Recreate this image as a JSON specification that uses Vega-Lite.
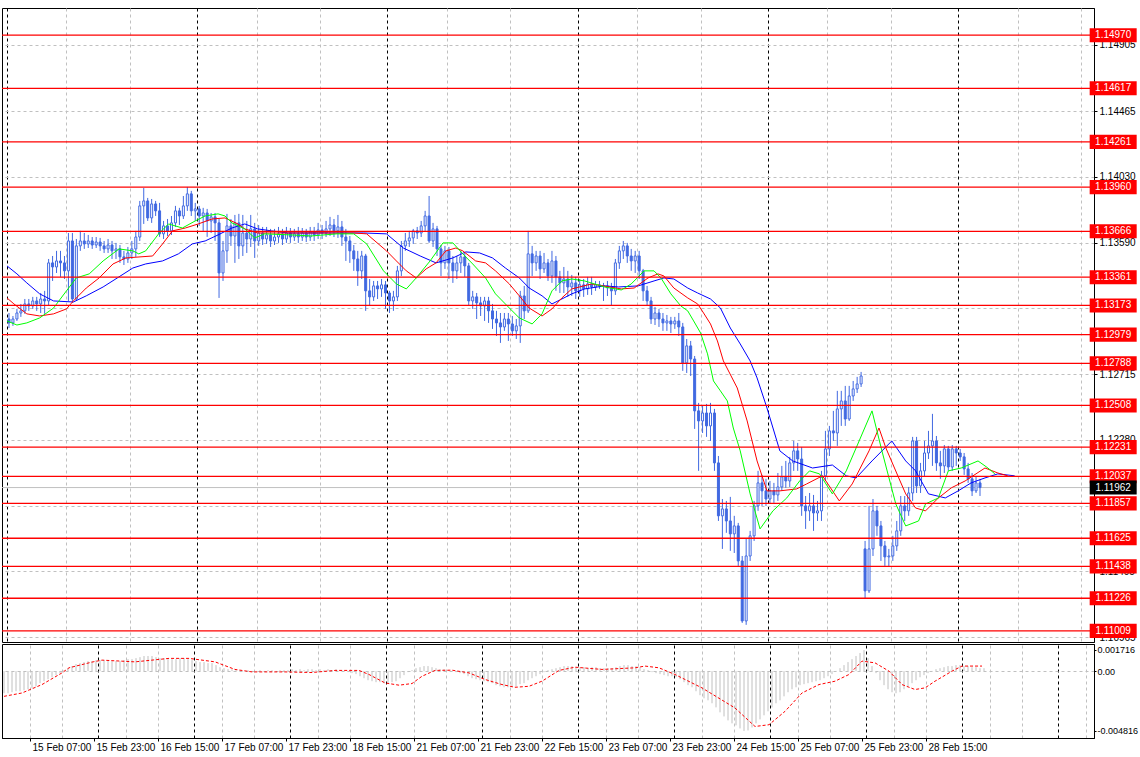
{
"$schema":"https://vega.github.io/schema/vega-lite/v6.json",
"background":"white",
"padding":{"left":0,"top":7,"right":0,"bottom":0},
"spacing":0,
"config":{"view":{"stroke":"black","strokeWidth":1},"axis":{"labelFont":"Liberation Sans","labelFontSize":10,"labelColor":"black","tickColor":"black","domainColor":"black","tickSize":3,"gridWidth":1}},
"datasets":{
"candles":[
{"t":0,"o":1.13083,"h":1.13123,"l":1.13023,"c":1.13057,"m":-0.00178},
{"t":1,"o":1.13057,"h":1.13103,"l":1.13037,"c":1.13083,"m":-0.00178},
{"t":2,"o":1.13083,"h":1.13150,"l":1.13070,"c":1.13123,"m":-0.0017},
{"t":3,"o":1.13123,"h":1.13183,"l":1.13097,"c":1.13137,"m":-0.00162},
{"t":4,"o":1.13137,"h":1.13216,"l":1.13117,"c":1.13183,"m":-0.00162},
{"t":5,"o":1.13183,"h":1.13216,"l":1.13137,"c":1.13170,"m":-0.00154},
{"t":6,"o":1.13170,"h":1.13230,"l":1.13150,"c":1.13203,"m":-0.00146},
{"t":7,"o":1.13203,"h":1.13230,"l":1.13137,"c":1.13183,"m":-0.00138},
{"t":8,"o":1.13183,"h":1.13256,"l":1.13123,"c":1.13216,"m":-0.00122},
{"t":9,"o":1.13216,"h":1.13270,"l":1.13117,"c":1.13203,"m":-0.00097},
{"t":10,"o":1.13203,"h":1.13482,"l":1.13170,"c":1.13456,"m":-0.00081},
{"t":11,"o":1.13456,"h":1.13502,"l":1.13336,"c":1.13429,"m":-0.00065},
{"t":12,"o":1.13429,"h":1.13536,"l":1.13389,"c":1.13469,"m":-0.00049},
{"t":13,"o":1.13469,"h":1.13536,"l":1.13363,"c":1.13456,"m":-0.00032},
{"t":14,"o":1.13456,"h":1.13502,"l":1.13349,"c":1.13403,"m":-0.00016},
{"t":15,"o":1.13403,"h":1.13655,"l":1.13203,"c":1.13602,"m":0.00008},
{"t":16,"o":1.13602,"h":1.13655,"l":1.13190,"c":1.13216,"m":0.00024},
{"t":17,"o":1.13216,"h":1.13615,"l":1.13203,"c":1.13569,"m":0.00041},
{"t":18,"o":1.13569,"h":1.13669,"l":1.13536,"c":1.13602,"m":0.00057},
{"t":19,"o":1.13602,"h":1.13655,"l":1.13549,"c":1.13582,"m":0.00065},
{"t":20,"o":1.13582,"h":1.13642,"l":1.13555,"c":1.13602,"m":0.00073},
{"t":21,"o":1.13602,"h":1.13628,"l":1.13549,"c":1.13575,"m":0.00081},
{"t":22,"o":1.13575,"h":1.13628,"l":1.13555,"c":1.13595,"m":0.00081},
{"t":23,"o":1.13595,"h":1.13622,"l":1.13536,"c":1.13569,"m":0.00089},
{"t":24,"o":1.13569,"h":1.13602,"l":1.13522,"c":1.13549,"m":0.00089},
{"t":25,"o":1.13549,"h":1.13615,"l":1.13522,"c":1.13575,"m":0.00089},
{"t":26,"o":1.13575,"h":1.13602,"l":1.13482,"c":1.13536,"m":0.00089},
{"t":27,"o":1.13536,"h":1.13589,"l":1.13482,"c":1.13549,"m":0.00081},
{"t":28,"o":1.13549,"h":1.13575,"l":1.13456,"c":1.13496,"m":0.00081},
{"t":29,"o":1.13496,"h":1.13536,"l":1.13442,"c":1.13482,"m":0.00081},
{"t":30,"o":1.13482,"h":1.13562,"l":1.13456,"c":1.13522,"m":0.00089},
{"t":31,"o":1.13522,"h":1.13602,"l":1.13482,"c":1.13549,"m":0.00097},
{"t":32,"o":1.13549,"h":1.13669,"l":1.13496,"c":1.13628,"m":0.00097},
{"t":33,"o":1.13628,"h":1.13868,"l":1.13602,"c":1.13835,"m":0.00105},
{"t":34,"o":1.13835,"h":1.13954,"l":1.13715,"c":1.13868,"m":0.00113},
{"t":35,"o":1.13868,"h":1.13888,"l":1.13735,"c":1.13755,"m":0.00122},
{"t":36,"o":1.13755,"h":1.13881,"l":1.13722,"c":1.13848,"m":0.00122},
{"t":37,"o":1.13848,"h":1.13868,"l":1.13768,"c":1.13802,"m":0.00122},
{"t":38,"o":1.13802,"h":1.13855,"l":1.13629,"c":1.13649,"m":0.00113},
{"t":39,"o":1.13649,"h":1.13735,"l":1.13615,"c":1.13702,"m":0.00105},
{"t":40,"o":1.13702,"h":1.13748,"l":1.13635,"c":1.13669,"m":0.00105},
{"t":41,"o":1.13669,"h":1.13768,"l":1.13642,"c":1.13722,"m":0.00097},
{"t":42,"o":1.13722,"h":1.13835,"l":1.13695,"c":1.13802,"m":0.00097},
{"t":43,"o":1.13802,"h":1.13822,"l":1.13708,"c":1.13768,"m":0.00097},
{"t":44,"o":1.13768,"h":1.13901,"l":1.13748,"c":1.13835,"m":0.00105},
{"t":45,"o":1.13835,"h":1.13961,"l":1.13802,"c":1.13915,"m":0.00105},
{"t":46,"o":1.13915,"h":1.13935,"l":1.13768,"c":1.13802,"m":0.00097},
{"t":47,"o":1.13802,"h":1.13855,"l":1.13735,"c":1.13815,"m":0.00089},
{"t":48,"o":1.13815,"h":1.13835,"l":1.13702,"c":1.13768,"m":0.00081},
{"t":49,"o":1.13768,"h":1.13822,"l":1.13669,"c":1.13788,"m":0.00073},
{"t":50,"o":1.13788,"h":1.13815,"l":1.13629,"c":1.13735,"m":0.00073},
{"t":51,"o":1.13735,"h":1.13788,"l":1.13655,"c":1.13762,"m":0.00065},
{"t":52,"o":1.13762,"h":1.13788,"l":1.13602,"c":1.13722,"m":0.00065},
{"t":53,"o":1.13722,"h":1.13748,"l":1.13223,"c":1.13389,"m":0.00049},
{"t":54,"o":1.13389,"h":1.13602,"l":1.13336,"c":1.13536,"m":0.00032},
{"t":55,"o":1.13536,"h":1.13782,"l":1.13456,"c":1.13702,"m":0.00024},
{"t":56,"o":1.13702,"h":1.13748,"l":1.13569,"c":1.13635,"m":0.00016},
{"t":57,"o":1.13635,"h":1.13775,"l":1.13456,"c":1.13722,"m":0.00016},
{"t":58,"o":1.13722,"h":1.13782,"l":1.13482,"c":1.13569,"m":0.00008},
{"t":59,"o":1.13569,"h":1.13775,"l":1.13502,"c":1.13655,"m":0.00008},
{"t":60,"o":1.13655,"h":1.13735,"l":1.13522,"c":1.13615,"m":0.00002},
{"t":61,"o":1.13615,"h":1.13775,"l":1.13562,"c":1.13682,"m":0.00008},
{"t":62,"o":1.13682,"h":1.13722,"l":1.13489,"c":1.13602,"m":0.00002},
{"t":63,"o":1.13602,"h":1.13708,"l":1.13569,"c":1.13655,"m":0.00002},
{"t":64,"o":1.13655,"h":1.13695,"l":1.13575,"c":1.13615,"m":0.00008},
{"t":65,"o":1.13615,"h":1.13695,"l":1.13582,"c":1.13642,"m":0.00002},
{"t":66,"o":1.13642,"h":1.13682,"l":1.13562,"c":1.13602,"m":0.00008},
{"t":67,"o":1.13602,"h":1.13682,"l":1.13575,"c":1.13628,"m":0.00008},
{"t":68,"o":1.13628,"h":1.13695,"l":1.13589,"c":1.13649,"m":0.00002},
{"t":69,"o":1.13649,"h":1.13682,"l":1.13575,"c":1.13615,"m":0.00008},
{"t":70,"o":1.13615,"h":1.13695,"l":1.13589,"c":1.13655,"m":0.00008},
{"t":71,"o":1.13655,"h":1.13688,"l":1.13589,"c":1.13628,"m":0.00008},
{"t":72,"o":1.13628,"h":1.13682,"l":1.13602,"c":1.13649,"m":0.00016},
{"t":73,"o":1.13649,"h":1.13695,"l":1.13589,"c":1.13628,"m":0.00008},
{"t":74,"o":1.13628,"h":1.13688,"l":1.13602,"c":1.13655,"m":0.00016},
{"t":75,"o":1.13655,"h":1.13682,"l":1.13595,"c":1.13628,"m":0.00008},
{"t":76,"o":1.13628,"h":1.13695,"l":1.13602,"c":1.13662,"m":0.00016},
{"t":77,"o":1.13662,"h":1.13695,"l":1.13602,"c":1.13642,"m":0.00016},
{"t":78,"o":1.13642,"h":1.13722,"l":1.13615,"c":1.13675,"m":0.00008},
{"t":79,"o":1.13675,"h":1.13708,"l":1.13615,"c":1.13655,"m":0.00016},
{"t":80,"o":1.13655,"h":1.13735,"l":1.13628,"c":1.13682,"m":0.00008},
{"t":81,"o":1.13682,"h":1.13762,"l":1.13635,"c":1.13708,"m":0.00016},
{"t":82,"o":1.13708,"h":1.13748,"l":1.13628,"c":1.13669,"m":0.00008},
{"t":83,"o":1.13669,"h":1.13775,"l":1.13622,"c":1.13695,"m":0.00016},
{"t":84,"o":1.13695,"h":1.13735,"l":1.13569,"c":1.13628,"m":0.00008},
{"t":85,"o":1.13628,"h":1.13682,"l":1.13469,"c":1.13602,"m":0.00002},
{"t":86,"o":1.13602,"h":1.13635,"l":1.13456,"c":1.13536,"m":-0.00008},
{"t":87,"o":1.13536,"h":1.13575,"l":1.13403,"c":1.13482,"m":-0.00016},
{"t":88,"o":1.13482,"h":1.13536,"l":1.13303,"c":1.13403,"m":-0.00024},
{"t":89,"o":1.13403,"h":1.13536,"l":1.13349,"c":1.13502,"m":-0.00041},
{"t":90,"o":1.13502,"h":1.13516,"l":1.13137,"c":1.13270,"m":-0.00057},
{"t":91,"o":1.13270,"h":1.13349,"l":1.13170,"c":1.13230,"m":-0.00073},
{"t":92,"o":1.13230,"h":1.13336,"l":1.13203,"c":1.13303,"m":-0.00081},
{"t":93,"o":1.13303,"h":1.13336,"l":1.13216,"c":1.13283,"m":-0.00089},
{"t":94,"o":1.13283,"h":1.13349,"l":1.13230,"c":1.13310,"m":-0.00089},
{"t":95,"o":1.13310,"h":1.13336,"l":1.13150,"c":1.13256,"m":-0.00097},
{"t":96,"o":1.13256,"h":1.13270,"l":1.13123,"c":1.13203,"m":-0.00097},
{"t":97,"o":1.13203,"h":1.13270,"l":1.13137,"c":1.13230,"m":-0.00089},
{"t":98,"o":1.13230,"h":1.13436,"l":1.13203,"c":1.13403,"m":-0.00081},
{"t":99,"o":1.13403,"h":1.13602,"l":1.13369,"c":1.13569,"m":-0.00057},
{"t":100,"o":1.13569,"h":1.13655,"l":1.13536,"c":1.13602,"m":-0.00032},
{"t":101,"o":1.13602,"h":1.13669,"l":1.13562,"c":1.13622,"m":-0.00008},
{"t":102,"o":1.13622,"h":1.13682,"l":1.13582,"c":1.13669,"m":0.00008},
{"t":103,"o":1.13669,"h":1.13695,"l":1.13615,"c":1.13655,"m":0.00024},
{"t":104,"o":1.13655,"h":1.13735,"l":1.13628,"c":1.13702,"m":0.00032},
{"t":105,"o":1.13702,"h":1.13802,"l":1.13669,"c":1.13768,"m":0.00041},
{"t":106,"o":1.13768,"h":1.13901,"l":1.13589,"c":1.13602,"m":0.00041},
{"t":107,"o":1.13602,"h":1.13722,"l":1.13562,"c":1.13682,"m":0.00032},
{"t":108,"o":1.13682,"h":1.13702,"l":1.13502,"c":1.13549,"m":0.00024},
{"t":109,"o":1.13549,"h":1.13575,"l":1.13369,"c":1.13456,"m":0.00016},
{"t":110,"o":1.13456,"h":1.13569,"l":1.13416,"c":1.13536,"m":0.00016},
{"t":111,"o":1.13536,"h":1.13562,"l":1.13349,"c":1.13456,"m":0.00008},
{"t":112,"o":1.13456,"h":1.13502,"l":1.13323,"c":1.13403,"m":0.00002},
{"t":113,"o":1.13403,"h":1.13502,"l":1.13349,"c":1.13456,"m":-0.00008},
{"t":114,"o":1.13456,"h":1.13536,"l":1.13389,"c":1.13496,"m":-0.00016},
{"t":115,"o":1.13496,"h":1.13522,"l":1.13363,"c":1.13436,"m":-0.00024},
{"t":116,"o":1.13436,"h":1.13456,"l":1.13170,"c":1.13203,"m":-0.00041},
{"t":117,"o":1.13203,"h":1.13270,"l":1.13150,"c":1.13230,"m":-0.00057},
{"t":118,"o":1.13230,"h":1.13256,"l":1.13083,"c":1.13190,"m":-0.00065},
{"t":119,"o":1.13190,"h":1.13230,"l":1.13103,"c":1.13170,"m":-0.00073},
{"t":120,"o":1.13170,"h":1.13230,"l":1.13070,"c":1.13203,"m":-0.00081},
{"t":121,"o":1.13203,"h":1.13230,"l":1.13057,"c":1.13137,"m":-0.00089},
{"t":122,"o":1.13137,"h":1.13183,"l":1.13017,"c":1.13083,"m":-0.00097},
{"t":123,"o":1.13083,"h":1.13137,"l":1.12970,"c":1.13057,"m":-0.00113},
{"t":124,"o":1.13057,"h":1.13123,"l":1.12924,"c":1.13030,"m":-0.00122},
{"t":125,"o":1.13030,"h":1.13123,"l":1.13004,"c":1.13083,"m":-0.0013},
{"t":126,"o":1.13083,"h":1.13123,"l":1.12937,"c":1.13050,"m":-0.0013},
{"t":127,"o":1.13050,"h":1.13103,"l":1.12970,"c":1.13004,"m":-0.0013},
{"t":128,"o":1.13004,"h":1.13083,"l":1.12950,"c":1.13037,"m":-0.00122},
{"t":129,"o":1.13037,"h":1.13270,"l":1.12924,"c":1.13236,"m":-0.00105},
{"t":130,"o":1.13236,"h":1.13303,"l":1.13083,"c":1.13137,"m":-0.00097},
{"t":131,"o":1.13137,"h":1.13669,"l":1.13123,"c":1.13516,"m":-0.00073},
{"t":132,"o":1.13516,"h":1.13569,"l":1.13369,"c":1.13456,"m":-0.00057},
{"t":133,"o":1.13456,"h":1.13536,"l":1.13403,"c":1.13502,"m":-0.00041},
{"t":134,"o":1.13502,"h":1.13536,"l":1.13349,"c":1.13416,"m":-0.00024},
{"t":135,"o":1.13416,"h":1.13522,"l":1.13389,"c":1.13456,"m":-0.00008},
{"t":136,"o":1.13456,"h":1.13482,"l":1.13336,"c":1.13369,"m":0.00008},
{"t":137,"o":1.13369,"h":1.13536,"l":1.13323,"c":1.13469,"m":0.00016},
{"t":138,"o":1.13469,"h":1.13502,"l":1.13270,"c":1.13363,"m":0.00024},
{"t":139,"o":1.13363,"h":1.13403,"l":1.13256,"c":1.13323,"m":0.00032},
{"t":140,"o":1.13323,"h":1.13429,"l":1.13256,"c":1.13349,"m":0.00041},
{"t":141,"o":1.13349,"h":1.13403,"l":1.13230,"c":1.13296,"m":0.00041},
{"t":142,"o":1.13296,"h":1.13376,"l":1.13236,"c":1.13323,"m":0.00041},
{"t":143,"o":1.13323,"h":1.13363,"l":1.13216,"c":1.13270,"m":0.00032},
{"t":144,"o":1.13270,"h":1.13349,"l":1.13230,"c":1.13310,"m":0.00032},
{"t":145,"o":1.13310,"h":1.13349,"l":1.13230,"c":1.13283,"m":0.00032},
{"t":146,"o":1.13283,"h":1.13363,"l":1.13243,"c":1.13316,"m":0.00024},
{"t":147,"o":1.13316,"h":1.13363,"l":1.13243,"c":1.13296,"m":0.00032},
{"t":148,"o":1.13296,"h":1.13336,"l":1.13270,"c":1.13310,"m":0.00032},
{"t":149,"o":1.13310,"h":1.13336,"l":1.13283,"c":1.13303,"m":0.00024},
{"t":150,"o":1.13303,"h":1.13323,"l":1.13203,"c":1.13303,"m":0.00024},
{"t":151,"o":1.13303,"h":1.13336,"l":1.13236,"c":1.13290,"m":0.00024},
{"t":152,"o":1.13290,"h":1.13323,"l":1.13170,"c":1.13270,"m":0.00024},
{"t":153,"o":1.13270,"h":1.13482,"l":1.13243,"c":1.13456,"m":0.00032},
{"t":154,"o":1.13456,"h":1.13569,"l":1.13416,"c":1.13536,"m":0.00041},
{"t":155,"o":1.13536,"h":1.13602,"l":1.13482,"c":1.13569,"m":0.00049},
{"t":156,"o":1.13569,"h":1.13589,"l":1.13456,"c":1.13502,"m":0.00049},
{"t":157,"o":1.13502,"h":1.13549,"l":1.13403,"c":1.13469,"m":0.00041},
{"t":158,"o":1.13469,"h":1.13536,"l":1.13389,"c":1.13502,"m":0.00041},
{"t":159,"o":1.13502,"h":1.13536,"l":1.13349,"c":1.13403,"m":0.00032},
{"t":160,"o":1.13403,"h":1.13416,"l":1.13203,"c":1.13270,"m":0.00016},
{"t":161,"o":1.13270,"h":1.13303,"l":1.13170,"c":1.13203,"m":0.00008},
{"t":162,"o":1.13203,"h":1.13230,"l":1.13050,"c":1.13083,"m":-0.00008},
{"t":163,"o":1.13083,"h":1.13163,"l":1.13043,"c":1.13123,"m":-0.00016},
{"t":164,"o":1.13123,"h":1.13150,"l":1.13030,"c":1.13083,"m":-0.00024},
{"t":165,"o":1.13083,"h":1.13123,"l":1.13004,"c":1.13057,"m":-0.00032},
{"t":166,"o":1.13057,"h":1.13110,"l":1.13004,"c":1.13070,"m":-0.00041},
{"t":167,"o":1.13070,"h":1.13097,"l":1.12990,"c":1.13050,"m":-0.00041},
{"t":168,"o":1.13050,"h":1.13097,"l":1.13017,"c":1.13070,"m":-0.00049},
{"t":169,"o":1.13070,"h":1.13123,"l":1.12970,"c":1.13030,"m":-0.00065},
{"t":170,"o":1.13030,"h":1.13057,"l":1.12738,"c":1.12791,"m":-0.00089},
{"t":171,"o":1.12791,"h":1.12950,"l":1.12724,"c":1.12904,"m":-0.00113},
{"t":172,"o":1.12904,"h":1.12937,"l":1.12704,"c":1.12817,"m":-0.0013},
{"t":173,"o":1.12817,"h":1.12837,"l":1.12352,"c":1.12472,"m":-0.00162},
{"t":174,"o":1.12472,"h":1.12525,"l":1.12073,"c":1.12405,"m":-0.00194},
{"t":175,"o":1.12405,"h":1.12505,"l":1.12325,"c":1.12458,"m":-0.00219},
{"t":176,"o":1.12458,"h":1.12518,"l":1.12299,"c":1.12372,"m":-0.00235},
{"t":177,"o":1.12372,"h":1.12525,"l":1.12272,"c":1.12458,"m":-0.00259},
{"t":178,"o":1.12458,"h":1.12485,"l":1.12073,"c":1.12126,"m":-0.00292},
{"t":179,"o":1.12126,"h":1.12172,"l":1.11740,"c":1.11774,"m":-0.00332},
{"t":180,"o":1.11774,"h":1.11886,"l":1.11554,"c":1.11820,"m":-0.00365},
{"t":181,"o":1.11820,"h":1.11873,"l":1.11661,"c":1.11740,"m":-0.00397},
{"t":182,"o":1.11740,"h":1.11900,"l":1.11541,"c":1.11654,"m":-0.00421},
{"t":183,"o":1.11654,"h":1.11774,"l":1.11527,"c":1.11707,"m":-0.00437},
{"t":184,"o":1.11707,"h":1.11727,"l":1.11441,"c":1.11474,"m":-0.00462},
{"t":185,"o":1.11474,"h":1.11507,"l":1.11062,"c":1.11075,"m":-0.00482},
{"t":186,"o":1.11075,"h":1.11620,"l":1.11049,"c":1.11507,"m":-0.00478},
{"t":187,"o":1.11507,"h":1.11674,"l":1.11474,"c":1.11641,"m":-0.00454},
{"t":188,"o":1.11641,"h":1.11873,"l":1.11607,"c":1.11840,"m":-0.00421},
{"t":189,"o":1.11840,"h":1.12073,"l":1.11807,"c":1.11993,"m":-0.00389},
{"t":190,"o":1.11993,"h":1.12046,"l":1.11840,"c":1.11940,"m":-0.00356},
{"t":191,"o":1.11940,"h":1.12020,"l":1.11840,"c":1.11886,"m":-0.00324},
{"t":192,"o":1.11886,"h":1.12006,"l":1.11853,"c":1.11940,"m":-0.00292},
{"t":193,"o":1.11940,"h":1.11993,"l":1.11860,"c":1.11913,"m":-0.00259},
{"t":194,"o":1.11913,"h":1.12059,"l":1.11873,"c":1.11966,"m":-0.00235},
{"t":195,"o":1.11966,"h":1.12106,"l":1.11940,"c":1.12033,"m":-0.00203},
{"t":196,"o":1.12033,"h":1.12139,"l":1.11960,"c":1.12006,"m":-0.0017},
{"t":197,"o":1.12006,"h":1.12166,"l":1.11966,"c":1.12126,"m":-0.00146},
{"t":198,"o":1.12126,"h":1.12272,"l":1.12073,"c":1.12206,"m":-0.0013},
{"t":199,"o":1.12206,"h":1.12259,"l":1.12073,"c":1.12152,"m":-0.00113},
{"t":200,"o":1.12152,"h":1.12232,"l":1.11774,"c":1.11840,"m":-0.00105},
{"t":201,"o":1.11840,"h":1.11906,"l":1.11687,"c":1.11807,"m":-0.00097},
{"t":202,"o":1.11807,"h":1.11926,"l":1.11740,"c":1.11840,"m":-0.00089},
{"t":203,"o":1.11840,"h":1.11913,"l":1.11674,"c":1.11793,"m":-0.00081},
{"t":204,"o":1.11793,"h":1.11873,"l":1.11740,"c":1.11807,"m":-0.00073},
{"t":205,"o":1.11807,"h":1.12073,"l":1.11740,"c":1.12040,"m":-0.00057},
{"t":206,"o":1.12040,"h":1.12339,"l":1.12006,"c":1.12219,"m":-0.00041},
{"t":207,"o":1.12219,"h":1.12372,"l":1.12172,"c":1.12339,"m":-0.00024},
{"t":208,"o":1.12339,"h":1.12472,"l":1.12272,"c":1.12325,"m":0.00002},
{"t":209,"o":1.12325,"h":1.12605,"l":1.12239,"c":1.12485,"m":0.00024},
{"t":210,"o":1.12485,"h":1.12605,"l":1.12372,"c":1.12538,"m":0.00049},
{"t":211,"o":1.12538,"h":1.12638,"l":1.12372,"c":1.12418,"m":0.00073},
{"t":212,"o":1.12418,"h":1.12638,"l":1.12405,"c":1.12571,"m":0.00097},
{"t":213,"o":1.12571,"h":1.12671,"l":1.12538,"c":1.12618,"m":0.00122},
{"t":214,"o":1.12618,"h":1.12698,"l":1.12591,"c":1.12651,"m":0.00146},
{"t":215,"o":1.12651,"h":1.12731,"l":1.12631,"c":1.12704,"m":0.0017},
{"t":216,"o":1.11554,"h":1.11607,"l":1.11221,"c":1.11275,"m":0.00105},
{"t":217,"o":1.11275,"h":1.11840,"l":1.11261,"c":1.11554,"m":0.00041},
{"t":218,"o":1.11554,"h":1.11886,"l":1.11507,"c":1.11807,"m":-0.00016},
{"t":219,"o":1.11807,"h":1.11840,"l":1.11641,"c":1.11707,"m":-0.00073},
{"t":220,"o":1.11707,"h":1.11740,"l":1.11474,"c":1.11574,"m":-0.00113},
{"t":221,"o":1.11574,"h":1.11607,"l":1.11441,"c":1.11501,"m":-0.00146},
{"t":222,"o":1.11501,"h":1.11554,"l":1.11434,"c":1.11507,"m":-0.0017},
{"t":223,"o":1.11507,"h":1.11641,"l":1.11474,"c":1.11574,"m":-0.00178},
{"t":224,"o":1.11574,"h":1.11740,"l":1.11541,"c":1.11674,"m":-0.0017},
{"t":225,"o":1.11674,"h":1.11906,"l":1.11641,"c":1.11840,"m":-0.00146},
{"t":226,"o":1.11840,"h":1.11906,"l":1.11740,"c":1.11807,"m":-0.00122},
{"t":227,"o":1.11807,"h":1.11966,"l":1.11774,"c":1.11926,"m":-0.00097},
{"t":228,"o":1.11926,"h":1.12299,"l":1.11873,"c":1.12272,"m":-0.00073},
{"t":229,"o":1.12272,"h":1.12299,"l":1.11926,"c":1.11973,"m":-0.00049},
{"t":230,"o":1.11973,"h":1.12126,"l":1.11926,"c":1.12073,"m":-0.00032},
{"t":231,"o":1.12073,"h":1.12272,"l":1.12033,"c":1.12192,"m":-0.00016},
{"t":232,"o":1.12192,"h":1.12339,"l":1.12152,"c":1.12239,"m":0.00002},
{"t":233,"o":1.12239,"h":1.12452,"l":1.12106,"c":1.12272,"m":0.00016},
{"t":234,"o":1.12272,"h":1.12305,"l":1.12073,"c":1.12126,"m":0.00024},
{"t":235,"o":1.12126,"h":1.12206,"l":1.12020,"c":1.12106,"m":0.00032},
{"t":236,"o":1.12106,"h":1.12245,"l":1.12059,"c":1.12219,"m":0.00041},
{"t":237,"o":1.12219,"h":1.12239,"l":1.12073,"c":1.12099,"m":0.00041},
{"t":238,"o":1.12099,"h":1.12245,"l":1.12073,"c":1.12219,"m":0.00049},
{"t":239,"o":1.12219,"h":1.12239,"l":1.12106,"c":1.12192,"m":0.00049},
{"t":240,"o":1.12192,"h":1.12219,"l":1.12139,"c":1.12166,"m":0.00041},
{"t":241,"o":1.12166,"h":1.12192,"l":1.12046,"c":1.12086,"m":0.00041},
{"t":242,"o":1.12086,"h":1.12126,"l":1.11993,"c":1.12020,"m":0.00032},
{"t":243,"o":1.12020,"h":1.12059,"l":1.11906,"c":1.11940,"m":0.00032},
{"t":244,"o":1.11940,"h":1.12033,"l":1.11926,"c":1.11993,"m":0.00024},
{"t":245,"o":1.11993,"h":1.12020,"l":1.11906,"c":1.11962,"m":0.00024}
],
"levels":[{"lvl":1.1497},{"lvl":1.14617},{"lvl":1.14261},{"lvl":1.1396},{"lvl":1.13666},{"lvl":1.13361},{"lvl":1.13173},{"lvl":1.12979},{"lvl":1.12788},{"lvl":1.12508},{"lvl":1.12231},{"lvl":1.12037},{"lvl":1.11857},{"lvl":1.11625},{"lvl":1.11438},{"lvl":1.11226},{"lvl":1.11009}],
"current":[{"p":1.11962}],
"blue":[{"t":-0.5,"p":1.13436},{"t":2,"p":1.13383},{"t":4.5,"p":1.13323},{"t":7.75,"p":1.1325},{"t":11.25,"p":1.13203},{"t":16.25,"p":1.13196},{"t":19.5,"p":1.13237},{"t":23.75,"p":1.13296},{"t":27.75,"p":1.13363},{"t":31.25,"p":1.13422},{"t":34.5,"p":1.13449},{"t":38.75,"p":1.13469},{"t":42.75,"p":1.13516},{"t":46.25,"p":1.13582},{"t":49.5,"p":1.13602},{"t":52.75,"p":1.13642},{"t":56.25,"p":1.13688},{"t":59.5,"p":1.13715},{"t":62.75,"p":1.13682},{"t":66.25,"p":1.13669},{"t":70.25,"p":1.13655},{"t":79.5,"p":1.13655},{"t":89.5,"p":1.13655},{"t":95.25,"p":1.13649},{"t":99.5,"p":1.13555},{"t":103.75,"p":1.13502},{"t":107.75,"p":1.13456},{"t":112,"p":1.13489},{"t":115.25,"p":1.13529},{"t":118.75,"p":1.13522},{"t":122,"p":1.13489},{"t":125.25,"p":1.13422},{"t":128.75,"p":1.13356},{"t":131.25,"p":1.13289},{"t":134.5,"p":1.13237},{"t":137,"p":1.13183},{"t":139.5,"p":1.13216},{"t":142,"p":1.1325},{"t":145.25,"p":1.13283},{"t":150.25,"p":1.13303},{"t":153.75,"p":1.13296},{"t":158.75,"p":1.13303},{"t":162.75,"p":1.13336},{"t":165.25,"p":1.13356},{"t":167.75,"p":1.13349},{"t":171.25,"p":1.13289},{"t":173.75,"p":1.13256},{"t":177,"p":1.13216},{"t":179.5,"p":1.13156},{"t":182,"p":1.13023},{"t":184.5,"p":1.12917},{"t":187,"p":1.12804},{"t":188.75,"p":1.12691},{"t":191.25,"p":1.12491},{"t":194.5,"p":1.12206},{"t":197.75,"p":1.12139},{"t":202.75,"p":1.12092},{"t":207.75,"p":1.12112},{"t":211.25,"p":1.1204},{"t":213.75,"p":1.12026},{"t":217.75,"p":1.12139},{"t":222.75,"p":1.12272},{"t":226.25,"p":1.12139},{"t":228.75,"p":1.12073},{"t":232,"p":1.1192},{"t":236.25,"p":1.11893},{"t":239.5,"p":1.1194},{"t":242.75,"p":1.11993},{"t":246.25,"p":1.12026},{"t":249.5,"p":1.12053},{"t":253.75,"p":1.1204}],
"red":[{"t":-0.5,"p":1.13223},{"t":1.25,"p":1.13183},{"t":4.5,"p":1.13117},{"t":7.75,"p":1.13103},{"t":11.25,"p":1.13117},{"t":14.5,"p":1.1315},{"t":16.25,"p":1.13203},{"t":19.5,"p":1.13289},{"t":22.75,"p":1.13356},{"t":26.25,"p":1.13449},{"t":29.5,"p":1.13489},{"t":36.25,"p":1.13502},{"t":38.75,"p":1.13582},{"t":41.25,"p":1.13669},{"t":44.5,"p":1.13688},{"t":47.75,"p":1.13715},{"t":51.25,"p":1.13748},{"t":54.5,"p":1.13755},{"t":57.75,"p":1.13715},{"t":59.5,"p":1.13682},{"t":62.75,"p":1.13655},{"t":87,"p":1.13655},{"t":90.25,"p":1.13649},{"t":95.25,"p":1.13536},{"t":97.75,"p":1.13469},{"t":100.25,"p":1.13403},{"t":102.75,"p":1.13356},{"t":105.25,"p":1.13416},{"t":107.75,"p":1.13456},{"t":110.25,"p":1.13536},{"t":112.75,"p":1.13555},{"t":114.5,"p":1.13536},{"t":117.75,"p":1.13469},{"t":120.25,"p":1.13456},{"t":122.75,"p":1.13403},{"t":126.25,"p":1.13316},{"t":128.75,"p":1.13237},{"t":131.25,"p":1.13156},{"t":134.5,"p":1.13103},{"t":137,"p":1.1315},{"t":139.5,"p":1.13223},{"t":142,"p":1.13283},{"t":147,"p":1.13316},{"t":154.5,"p":1.13283},{"t":157.75,"p":1.13289},{"t":161.25,"p":1.13356},{"t":163.75,"p":1.13383},{"t":165.25,"p":1.13369},{"t":167.75,"p":1.13289},{"t":171.25,"p":1.13223},{"t":173.75,"p":1.13183},{"t":175.25,"p":1.13123},{"t":177,"p":1.1305},{"t":178.75,"p":1.12937},{"t":180.25,"p":1.12804},{"t":183.75,"p":1.12624},{"t":186.25,"p":1.12405},{"t":188.75,"p":1.12139},{"t":191.25,"p":1.1194},{"t":194.5,"p":1.1194},{"t":198.75,"p":1.11953},{"t":201.25,"p":1.11986},{"t":205.25,"p":1.1204},{"t":209.5,"p":1.11873},{"t":212.75,"p":1.11986},{"t":217,"p":1.12206},{"t":219.5,"p":1.12358},{"t":221.25,"p":1.12225},{"t":224.5,"p":1.12026},{"t":226.25,"p":1.1192},{"t":228.75,"p":1.11826},{"t":231.25,"p":1.11807},{"t":234.5,"p":1.11893},{"t":237.75,"p":1.1196},{"t":241.25,"p":1.12006},{"t":246.25,"p":1.12092},{"t":249.5,"p":1.12059},{"t":252,"p":1.1204}],
"green":[{"t":-0.5,"p":1.1307},{"t":2,"p":1.13043},{"t":4.5,"p":1.13057},{"t":7.75,"p":1.1309},{"t":11.25,"p":1.13156},{"t":14.5,"p":1.1327},{"t":17,"p":1.13356},{"t":20.25,"p":1.13383},{"t":23.75,"p":1.13469},{"t":27.75,"p":1.13549},{"t":31.25,"p":1.13536},{"t":32.75,"p":1.13516},{"t":34.5,"p":1.13536},{"t":37.75,"p":1.13649},{"t":40.25,"p":1.13715},{"t":43.75,"p":1.13688},{"t":47,"p":1.13735},{"t":49.5,"p":1.13768},{"t":52.75,"p":1.13782},{"t":54.5,"p":1.13768},{"t":56.25,"p":1.13722},{"t":59.5,"p":1.13682},{"t":62,"p":1.13622},{"t":64.5,"p":1.13649},{"t":71.25,"p":1.13642},{"t":76.25,"p":1.13635},{"t":82.75,"p":1.13649},{"t":87,"p":1.13649},{"t":90.25,"p":1.13582},{"t":94.5,"p":1.13403},{"t":97.75,"p":1.13316},{"t":100.25,"p":1.13283},{"t":102.75,"p":1.13356},{"t":106.25,"p":1.13469},{"t":109.5,"p":1.13589},{"t":112,"p":1.13589},{"t":114.5,"p":1.13516},{"t":117,"p":1.13449},{"t":120.25,"p":1.13356},{"t":122.75,"p":1.1325},{"t":126.25,"p":1.13156},{"t":128.75,"p":1.1309},{"t":132,"p":1.1305},{"t":134.5,"p":1.13117},{"t":137,"p":1.1327},{"t":139.5,"p":1.13336},{"t":142,"p":1.13349},{"t":145.25,"p":1.13336},{"t":150.25,"p":1.13296},{"t":154.5,"p":1.13276},{"t":157,"p":1.13316},{"t":160.25,"p":1.13403},{"t":162.75,"p":1.13403},{"t":164.5,"p":1.13356},{"t":167,"p":1.1325},{"t":169.5,"p":1.1317},{"t":171.25,"p":1.13137},{"t":172.75,"p":1.1307},{"t":174.5,"p":1.1299},{"t":176.25,"p":1.12851},{"t":177.75,"p":1.12671},{"t":179.5,"p":1.12605},{"t":181.25,"p":1.12538},{"t":182.75,"p":1.12358},{"t":184.5,"p":1.12206},{"t":187,"p":1.1192},{"t":189.5,"p":1.11687},{"t":192.75,"p":1.11807},{"t":196.25,"p":1.11893},{"t":199.5,"p":1.12006},{"t":202,"p":1.12073},{"t":204.5,"p":1.12053},{"t":207.75,"p":1.1192},{"t":211.25,"p":1.12073},{"t":214.5,"p":1.12272},{"t":217.75,"p":1.12472},{"t":220.25,"p":1.12206},{"t":223.75,"p":1.11853},{"t":226.25,"p":1.11707},{"t":229.5,"p":1.1174},{"t":231.25,"p":1.11853},{"t":234.5,"p":1.11893},{"t":237,"p":1.12073},{"t":240.25,"p":1.12092},{"t":244.5,"p":1.12139},{"t":247,"p":1.12092},{"t":248.75,"p":1.12053}],
"signal":[{"t":0,"v":-0.00203},{"t":4.5,"v":-0.00176},{"t":9.5,"v":-0.00108},{"t":14.5,"v":-0.00014},{"t":16.25,"v":0.00027},{"t":22,"v":0.00073},{"t":24.5,"v":0.00089},{"t":32.75,"v":0.00075},{"t":41.25,"v":0.00103},{"t":46.25,"v":0.00103},{"t":52.75,"v":0.00075},{"t":57.75,"v":0.00014},{"t":62,"v":-0.00006},{"t":70.25,"v":-0.00006},{"t":77,"v":-0.00011},{"t":82.75,"v":0.00006},{"t":88.75,"v":0.00006},{"t":91.25,"v":-0.00027},{"t":95.25,"v":-0.00095},{"t":98.75,"v":-0.00113},{"t":102,"v":-0.001},{"t":104.5,"v":-0.00041},{"t":107.75,"v":0.00006},{"t":112,"v":0.00008},{"t":116.25,"v":-0.00014},{"t":120.25,"v":-0.00067},{"t":124.5,"v":-0.00108},{"t":127.75,"v":-0.0013},{"t":131.25,"v":-0.00122},{"t":134.5,"v":-0.00081},{"t":138.75,"v":0.00006},{"t":142.75,"v":0.00032},{"t":149.5,"v":0.00014},{"t":157.75,"v":0.00027},{"t":160.25,"v":0.00041},{"t":163.75,"v":0.00027},{"t":167.75,"v":-0.00027},{"t":174.5,"v":-0.00135},{"t":182.75,"v":-0.00297},{"t":187.75,"v":-0.00446},{"t":191.25,"v":-0.00432},{"t":195.25,"v":-0.00324},{"t":199.5,"v":-0.00176},{"t":203.75,"v":-0.00108},{"t":207.75,"v":-0.00081},{"t":211.25,"v":-0.00027},{"t":214.5,"v":0.00081},{"t":217.75,"v":0.00067},{"t":221.25,"v":0},{"t":224.5,"v":-0.00108},{"t":227.75,"v":-0.00148},{"t":230.25,"v":-0.00135},{"t":232.75,"v":-0.00081},{"t":237,"v":0},{"t":239.5,"v":0.00041},{"t":244.5,"v":0.00041}]
},
"vconcat":[
{
"width":1092,"height":634,
"layer":[
{"data":{"name":"current"},"mark":{"type":"rule","color":"#C0C0C0","strokeWidth":1},
 "encoding":{"y":{"field":"p","type":"quantitative","scale":{"domain":[1.10935,1.15151],"zero":false,"nice":false},
  "axis":{"orient":"right","title":null,"values":[1.15125,1.14905,1.14685,1.14465,1.14245,1.1403,1.1381,1.1359,1.1337,1.13155,1.12935,1.12715,1.125,1.1228,1.1206,1.1184,1.1162,1.11405,1.11185,1.10965],"format":".5f","grid":true,"gridColor":"#C0C0C0","gridDash":[3,3],"labelPadding":2}}}},
{"data":{"name":"candles"},"mark":{"type":"rule","color":"#4169E1","strokeWidth":1},
 "encoding":{"x":{"field":"t","type":"quantitative","scale":{"domain":[-0.5,272.5],"nice":false,"zero":false},
  "axis":{"title":null,"labels":false,"ticks":false,"domain":false,"grid":true,"gridDash":[3,3],"values":[-0.5,6.5,14.5,23.5,30.5,38.5,47.5,54.5,62.5,71.5,78.5,86.5,95.5,102.5,110.5,119.5,126.5,134.5,143.5,150.5,158.5,167.5,174.5,182.5,191.5,198.5,206.5,215.5,222.5,230.5,239.5,246.5,254.5,263.5,270.5],
   "gridColor":{"condition":{"test":"(datum.value+0.5)%24==0","value":"black"},"value":"#C0C0C0"}}},
  "y":{"field":"l","type":"quantitative"},"y2":{"field":"h"}}},
{"data":{"name":"candles"},"mark":{"type":"bar","width":2,"stroke":"#4169E1","strokeWidth":1},
 "encoding":{"x":{"field":"t","type":"quantitative"},"y":{"field":"o","type":"quantitative"},"y2":{"field":"c"},
  "fill":{"condition":{"test":"datum.c > datum.o","value":"white"},"value":"#4169E1"}}},
{"data":{"name":"blue"},"mark":{"type":"line","color":"#0000FF","strokeWidth":1},"encoding":{"x":{"field":"t","type":"quantitative"},"y":{"field":"p","type":"quantitative"}}},
{"data":{"name":"red"},"mark":{"type":"line","color":"#FF0000","strokeWidth":1},"encoding":{"x":{"field":"t","type":"quantitative"},"y":{"field":"p","type":"quantitative"}}},
{"data":{"name":"green"},"mark":{"type":"line","color":"#00FF00","strokeWidth":1},"encoding":{"x":{"field":"t","type":"quantitative"},"y":{"field":"p","type":"quantitative"}}},
{"data":{"name":"levels"},"mark":{"type":"rule","color":"#FF0000","strokeWidth":1.3},"encoding":{"y":{"field":"lvl","type":"quantitative"}}},
{"data":{"name":"levels"},"mark":{"type":"point","shape":"M-1,-0.3H1V0.3H-1Z","filled":true,"color":"#FF0000","opacity":1,"size":2209},
 "encoding":{"x":{"datum":278.6,"type":"quantitative"},"y":{"field":"lvl","type":"quantitative"}}},
{"data":{"name":"levels"},"mark":{"type":"text","color":"white","font":"Liberation Sans","fontSize":10,"align":"center","baseline":"middle"},
 "encoding":{"x":{"datum":278.6,"type":"quantitative"},"y":{"field":"lvl","type":"quantitative"},"text":{"field":"lvl","type":"quantitative","format":".5f"}}},
{"data":{"name":"current"},"mark":{"type":"point","shape":"M-1,-0.3H1V0.3H-1Z","filled":true,"color":"black","opacity":1,"size":2209},
 "encoding":{"x":{"datum":278.6,"type":"quantitative"},"y":{"field":"p","type":"quantitative"}}},
{"data":{"name":"current"},"mark":{"type":"text","color":"white","font":"Liberation Sans","fontSize":10,"align":"center","baseline":"middle"},
 "encoding":{"x":{"datum":278.6,"type":"quantitative"},"y":{"field":"p","type":"quantitative"},"text":{"field":"p","type":"quantitative","format":".5f"}}}
]
},
{
"width":1092,"height":94,
"resolve":{"axis":{"x":"independent"}},
"layer":[
{"data":{"name":"candles"},"mark":{"type":"rule","color":"#C0C0C0","strokeWidth":1},
 "encoding":{"x":{"field":"t","type":"quantitative","scale":{"domain":[-0.5,272.5],"nice":false,"zero":false},
  "axis":{"orient":"bottom","title":null,"grid":false,"domain":true,"ticks":true,"tickSize":3,"labelAlign":"left","labelOffset":2,"labelPadding":1,"labelOverlap":false,"labelBound":false,"labelFlush":false,
   "values":[6.5,22.5,38.5,54.5,70.5,86.5,102.5,118.5,134.5,150.5,166.5,182.5,198.5,214.5,230.5],
   "labelExpr":"(datum.value+0.5<96 ? 15+floor((datum.value+0.5)/24) : (datum.value+0.5<216 ? 21+floor((datum.value+0.5-96)/24) : 28+floor((datum.value+0.5-216)/24))) + ' Feb ' + (((datum.value+0.5)%24)<10 ? '0' : '') + ((datum.value+0.5)%24) + ':00'"}},
  "y":{"field":"m","type":"quantitative","scale":{"domain":[-0.00539,0.00219],"zero":false,"nice":false},
   "axis":{"orient":"right","title":null,"values":[0.001716,0,-0.004816],"labelFontSize":9,"labelExpr":"datum.value==0 ? '0.00' : (datum.value<0 ? '-' + format(-datum.value,'.6f') : format(datum.value,'.6f'))","grid":true,"gridColor":"#C0C0C0","gridDash":[3,3],"gridOpacity":{"condition":{"test":"datum.value!=0","value":0},"value":1},"tickSize":2,"labelPadding":1}},
  "y2":{"datum":0}}},
{"data":{"name":"signal"},"mark":{"type":"line","color":"#FF0000","strokeWidth":1,"strokeDash":[3,2]},
 "encoding":{"x":{"field":"t","type":"quantitative",
  "axis":{"orient":"top","title":null,"labels":false,"ticks":false,"domain":false,"grid":true,"gridDash":[3,3],"values":[-0.5,6.5,14.5,23.5,30.5,38.5,47.5,54.5,62.5,71.5,78.5,86.5,95.5,102.5,110.5,119.5,126.5,134.5,143.5,150.5,158.5,167.5,174.5,182.5,191.5,198.5,206.5,215.5,222.5,230.5,239.5,246.5,254.5,263.5,270.5],
   "gridColor":{"condition":{"test":"(datum.value+0.5)%24==0","value":"black"},"value":"#C0C0C0"}}},
  "y":{"field":"v","type":"quantitative"}}}
]
}
]
}
